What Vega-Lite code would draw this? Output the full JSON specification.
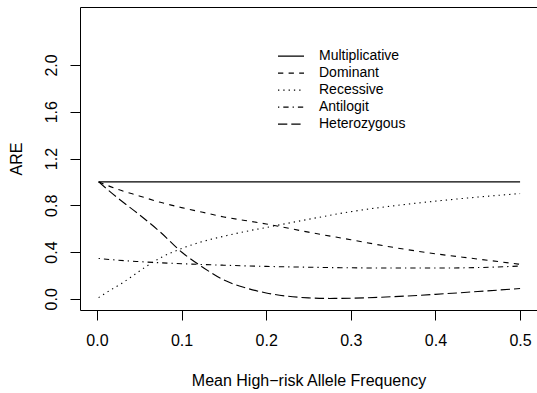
{
  "$schema": "https://vega.github.io/schema/vega-lite/v6.json",
  "width": 457,
  "height": 303,
  "autosize": {"type": "none"},
  "padding": {"left": 80, "top": 7, "right": 0, "bottom": 83},
  "config": {"view": {"stroke": "#000", "strokeWidth": 1}, "font": "Liberation Sans"},
  "data": {"values": [
    {"model": "Multiplicative", "x": 0.002, "y": 1.0},
    {"model": "Multiplicative", "x": 0.1, "y": 1.0},
    {"model": "Multiplicative", "x": 0.2, "y": 1.0},
    {"model": "Multiplicative", "x": 0.3, "y": 1.0},
    {"model": "Multiplicative", "x": 0.4, "y": 1.0},
    {"model": "Multiplicative", "x": 0.5, "y": 1.0},
    {"model": "Dominant", "x": 0.002, "y": 1.0},
    {"model": "Dominant", "x": 0.025, "y": 0.935},
    {"model": "Dominant", "x": 0.05, "y": 0.88},
    {"model": "Dominant", "x": 0.075, "y": 0.825},
    {"model": "Dominant", "x": 0.1, "y": 0.78},
    {"model": "Dominant", "x": 0.125, "y": 0.74},
    {"model": "Dominant", "x": 0.15, "y": 0.70},
    {"model": "Dominant", "x": 0.175, "y": 0.67},
    {"model": "Dominant", "x": 0.2, "y": 0.64},
    {"model": "Dominant", "x": 0.25, "y": 0.57},
    {"model": "Dominant", "x": 0.3, "y": 0.505},
    {"model": "Dominant", "x": 0.35, "y": 0.44},
    {"model": "Dominant", "x": 0.4, "y": 0.385},
    {"model": "Dominant", "x": 0.45, "y": 0.34},
    {"model": "Dominant", "x": 0.5, "y": 0.295},
    {"model": "Recessive", "x": 0.002, "y": 0.01},
    {"model": "Recessive", "x": 0.015, "y": 0.07},
    {"model": "Recessive", "x": 0.03, "y": 0.135},
    {"model": "Recessive", "x": 0.045, "y": 0.21},
    {"model": "Recessive", "x": 0.06, "y": 0.285},
    {"model": "Recessive", "x": 0.075, "y": 0.35},
    {"model": "Recessive", "x": 0.1, "y": 0.43},
    {"model": "Recessive", "x": 0.125, "y": 0.49},
    {"model": "Recessive", "x": 0.15, "y": 0.535},
    {"model": "Recessive", "x": 0.175, "y": 0.575},
    {"model": "Recessive", "x": 0.2, "y": 0.61},
    {"model": "Recessive", "x": 0.25, "y": 0.68},
    {"model": "Recessive", "x": 0.3, "y": 0.745},
    {"model": "Recessive", "x": 0.35, "y": 0.795},
    {"model": "Recessive", "x": 0.4, "y": 0.835},
    {"model": "Recessive", "x": 0.45, "y": 0.87},
    {"model": "Recessive", "x": 0.5, "y": 0.9},
    {"model": "Antilogit", "x": 0.002, "y": 0.345},
    {"model": "Antilogit", "x": 0.025, "y": 0.33},
    {"model": "Antilogit", "x": 0.05, "y": 0.318},
    {"model": "Antilogit", "x": 0.075, "y": 0.308},
    {"model": "Antilogit", "x": 0.1, "y": 0.30},
    {"model": "Antilogit", "x": 0.15, "y": 0.287},
    {"model": "Antilogit", "x": 0.2, "y": 0.277},
    {"model": "Antilogit", "x": 0.25, "y": 0.27},
    {"model": "Antilogit", "x": 0.3, "y": 0.265},
    {"model": "Antilogit", "x": 0.35, "y": 0.263},
    {"model": "Antilogit", "x": 0.4, "y": 0.263},
    {"model": "Antilogit", "x": 0.45, "y": 0.267},
    {"model": "Antilogit", "x": 0.5, "y": 0.28},
    {"model": "Heterozygous", "x": 0.002, "y": 1.0},
    {"model": "Heterozygous", "x": 0.025, "y": 0.86},
    {"model": "Heterozygous", "x": 0.05, "y": 0.72},
    {"model": "Heterozygous", "x": 0.075, "y": 0.57},
    {"model": "Heterozygous", "x": 0.1, "y": 0.40},
    {"model": "Heterozygous", "x": 0.125, "y": 0.27},
    {"model": "Heterozygous", "x": 0.15, "y": 0.16},
    {"model": "Heterozygous", "x": 0.175, "y": 0.095},
    {"model": "Heterozygous", "x": 0.2, "y": 0.05},
    {"model": "Heterozygous", "x": 0.225, "y": 0.022},
    {"model": "Heterozygous", "x": 0.25, "y": 0.008},
    {"model": "Heterozygous", "x": 0.275, "y": 0.003},
    {"model": "Heterozygous", "x": 0.3, "y": 0.005},
    {"model": "Heterozygous", "x": 0.35, "y": 0.018},
    {"model": "Heterozygous", "x": 0.4, "y": 0.038},
    {"model": "Heterozygous", "x": 0.45, "y": 0.062},
    {"model": "Heterozygous", "x": 0.5, "y": 0.088}
  ]},
  "mark": {"type": "line", "color": "#000", "strokeWidth": 1.1, "interpolate": "monotone", "clip": true},
  "encoding": {
    "x": {
      "field": "x", "type": "quantitative",
      "scale": {"domain": [-0.02, 0.52], "nice": false, "zero": false},
      "axis": {
        "values": [0, 0.1, 0.2, 0.3, 0.4, 0.5], "format": ".1f",
        "title": "Mean High−risk Allele Frequency",
        "domain": false, "grid": false,
        "tickColor": "#000", "tickSize": 10, "tickWidth": 1,
        "labelFontSize": 16, "labelColor": "#000", "labelPadding": 12,
        "labelFont": "Liberation Sans", "labelFlush": false, "labelOverlap": false,
        "titleFont": "Liberation Sans", "titleFontSize": 16, "titleFontWeight": "normal",
        "titleColor": "#000", "titleY": 70, "titleBaseline": "middle"
      }
    },
    "y": {
      "field": "y", "type": "quantitative",
      "scale": {"domain": [-0.096, 2.496], "nice": false, "zero": false},
      "axis": {
        "values": [0, 0.4, 0.8, 1.2, 1.6, 2.0], "format": ".1f",
        "title": "ARE",
        "domain": false, "grid": false,
        "tickColor": "#000", "tickSize": 10, "tickWidth": 1,
        "labelFontSize": 16, "labelColor": "#000", "labelPadding": 11,
        "labelAngle": 270, "labelAlign": "center", "labelBaseline": "bottom",
        "labelFont": "Liberation Sans", "labelFlush": false, "labelOverlap": false,
        "titleFont": "Liberation Sans", "titleFontSize": 16, "titleFontWeight": "normal",
        "titleColor": "#000", "titleX": -64, "titleY": 151.5, "titleAngle": 270,
        "titleAlign": "center", "titleBaseline": "middle"
      }
    },
    "strokeDash": {
      "field": "model", "type": "nominal",
      "scale": {
        "domain": ["Multiplicative", "Dominant", "Recessive", "Antilogit", "Heterozygous"],
        "range": [[1, 0], [5.3, 5.3], [1.3, 4], [1.3, 4, 5.3, 4], [9.3, 4]]
      },
      "legend": {
        "title": null, "orient": "none", "legendX": 197, "legendY": 42,
        "symbolType": "stroke", "symbolSize": 676, "symbolStrokeColor": "#000",
        "symbolStrokeWidth": 1.1, "labelOffset": 14, "labelFontSize": 14,
        "labelFont": "Liberation Sans", "labelColor": "#000",
        "clipHeight": 14.2, "rowPadding": 2,
        "padding": 0
      }
    }
  }
}
